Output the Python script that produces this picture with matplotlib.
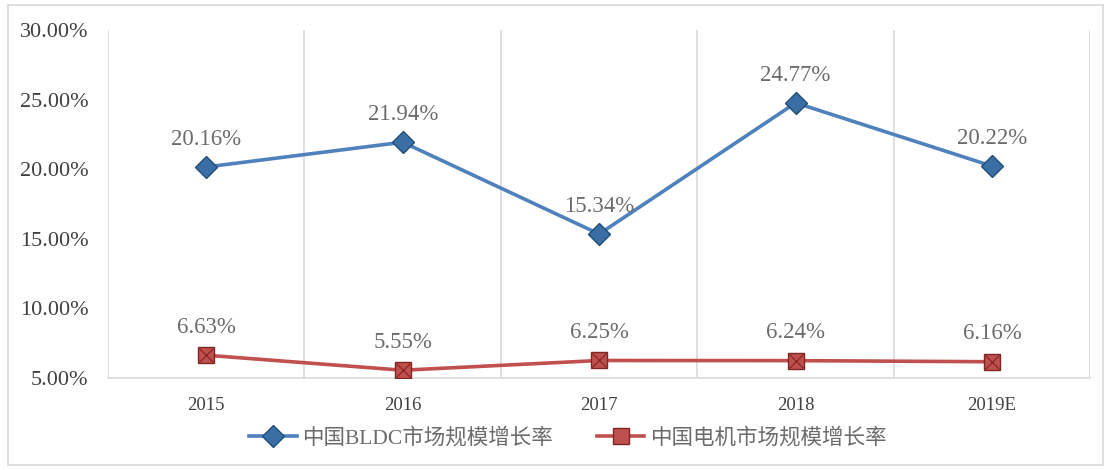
import matplotlib.pyplot as plt
from matplotlib.patches import Rectangle
from matplotlib.ticker import FuncFormatter

plt.rcParams['font.family'] = ['Liberation Serif', 'Noto Sans CJK SC', 'DejaVu Sans']

# data
years = ["2015", "2016", "2017", "2018", "2019E"]
bldc_growth = [20.16, 21.94, 15.34, 24.77, 20.22]
motor_growth = [6.63, 5.55, 6.25, 6.24, 6.16]
bldc_name = "中国BLDC市场规模增长率"
motor_name = "中国电机市场规模增长率"

fig = plt.figure(figsize=(11.1, 4.7), dpi=100)
ax = fig.add_axes([0.0973, 0.196, 0.885, 0.74])

x = list(range(len(years)))

ax.plot(x, bldc_growth, color="#4F81BD", lw=2.6, marker="D", markersize=11,
        markerfacecolor="#3A6EA5", markeredgecolor="#1F4E79", markeredgewidth=1,
        label=bldc_name, zorder=3)
ax.plot(x, motor_growth, color="#C0504D", lw=2.6, marker="s", markersize=12,
        markerfacecolor="#C0504D", markeredgecolor="#7F2624", markeredgewidth=1,
        label=motor_name, zorder=3)
ax.plot(x, motor_growth, ls="none", marker="x", markersize=10,
        markeredgecolor="#8B2A28", markeredgewidth=1, zorder=4)

# value labels
for xi, v in zip(x, bldc_growth):
    ax.annotate(f"{v:.2f}%", (xi, v), xytext=(0, 20), textcoords="offset points",
                ha="center", va="center", fontsize=16.5, color="#6B6B6B")
for xi, v in zip(x, motor_growth):
    ax.annotate(f"{v:.2f}%", (xi, v), xytext=(0, 20), textcoords="offset points",
                ha="center", va="center", fontsize=16.5, color="#6B6B6B")

ax.set_xlim(-0.5, len(years) - 0.5)
ax.set_ylim(5, 30)
ax.set_yticks([5, 10, 15, 20, 25, 30])
ax.yaxis.set_major_formatter(FuncFormatter(lambda v, p: f"{v:.2f}%"))
ax.set_xticks(x)
ax.set_xticklabels(years)

# vertical category gridlines
for b in range(len(years) + 1):
    ax.axvline(b - 0.5, color="#D9D9D9", lw=1.2, zorder=1)

for s in ["top", "left", "right"]:
    ax.spines[s].set_visible(False)
ax.spines["bottom"].set_color("#D9D9D9")
ax.spines["bottom"].set_linewidth(1.2)

ax.tick_params(axis="y", length=0, labelsize=16, labelcolor="#404040", pad=14)
ax.tick_params(axis="x", length=0, labelsize=13.5, labelcolor="#404040", pad=14)

leg = fig.legend(handles=ax.get_lines()[:2], loc="center", bbox_to_anchor=(0.512, 0.068),
                 ncol=2, frameon=False, fontsize=15.5, handlelength=2.2, columnspacing=2.0,
                 handletextpad=0.3)
for t in leg.get_texts():
    t.set_color("#6B6B6B")

fig.patches.append(Rectangle((0.007, 0.01), 0.987, 0.98, transform=fig.transFigure,
                             fill=False, edgecolor="#D9D9D9", lw=1.2))

fig.savefig("out.png", dpi=100, facecolor="white")
